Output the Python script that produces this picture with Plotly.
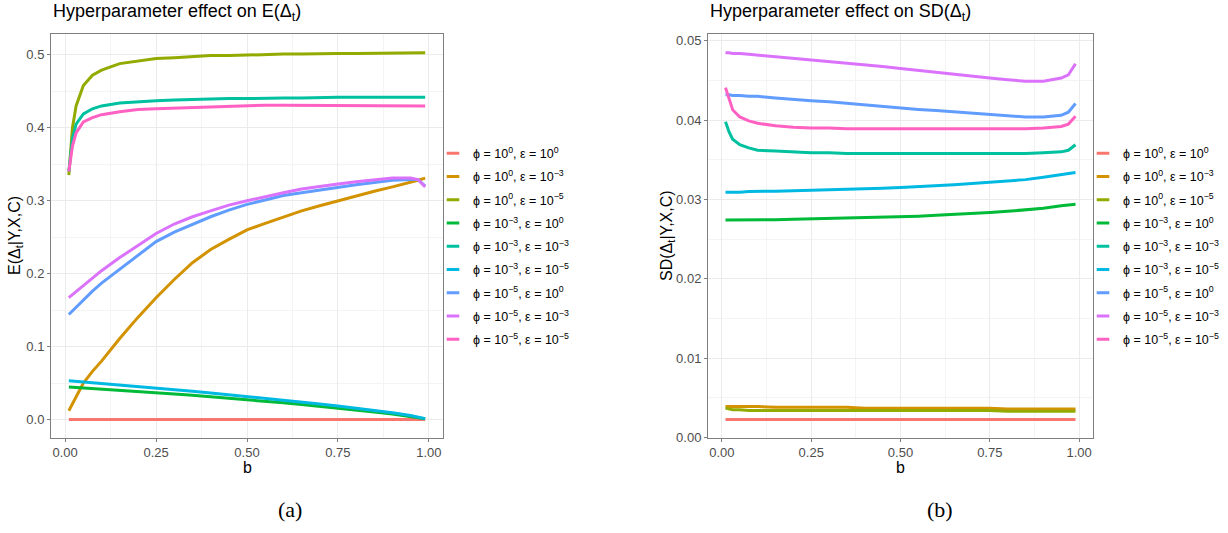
import plotly.graph_objects as go

# ---------------- data ----------------
b = [0.01, 0.02, 0.03, 0.05, 0.075, 0.1, 0.15, 0.2, 0.25, 0.3, 0.35, 0.4, 0.45,
     0.5, 0.55, 0.6, 0.65, 0.7, 0.75, 0.8, 0.85, 0.9, 0.95, 0.97, 0.99]

labels = [
    "ϕ = 10<sup>0</sup>, ε = 10<sup>0</sup>",
    "ϕ = 10<sup>0</sup>, ε = 10<sup>−3</sup>",
    "ϕ = 10<sup>0</sup>, ε = 10<sup>−5</sup>",
    "ϕ = 10<sup>−3</sup>, ε = 10<sup>0</sup>",
    "ϕ = 10<sup>−3</sup>, ε = 10<sup>−3</sup>",
    "ϕ = 10<sup>−3</sup>, ε = 10<sup>−5</sup>",
    "ϕ = 10<sup>−5</sup>, ε = 10<sup>0</sup>",
    "ϕ = 10<sup>−5</sup>, ε = 10<sup>−3</sup>",
    "ϕ = 10<sup>−5</sup>, ε = 10<sup>−5</sup>",
]
colors = ["#F8766D", "#D39200", "#93AA00", "#00BA38", "#00C19F",
          "#00B9E3", "#619CFF", "#DB72FB", "#FF61C3"]

# E(Delta_t | Y,X,C)
E_p0_e0 = [0.0] * 25
E_p0_e3 = [0.012, 0.022, 0.032, 0.05, 0.066, 0.08, 0.111, 0.14, 0.167, 0.192, 0.215, 0.233, 0.247,
           0.260, 0.269, 0.278, 0.286, 0.293, 0.300, 0.307, 0.313, 0.319, 0.325, 0.328, 0.331]
E_p0_e5 = [0.335, 0.40, 0.43, 0.458, 0.472, 0.479, 0.488, 0.492, 0.495, 0.496, 0.498, 0.499, 0.499,
           0.500, 0.500, 0.501, 0.501, 0.502, 0.502, 0.502, 0.502, 0.503, 0.503, 0.503, 0.503]
E_p3_e0 = [0.0446, 0.0443, 0.044, 0.0434, 0.0426, 0.0418, 0.0402, 0.0385, 0.0368, 0.035, 0.0331, 0.0312, 0.0292,
           0.0272, 0.025, 0.0228, 0.0205, 0.0181, 0.0156, 0.013, 0.0103, 0.0074, 0.0042, 0.0026, 0.001]
E_p3_e3 = [0.34, 0.385, 0.405, 0.419, 0.426, 0.43, 0.434, 0.436, 0.437, 0.438, 0.439, 0.439, 0.440,
           0.440, 0.441, 0.441, 0.441, 0.442, 0.442, 0.442, 0.442, 0.443, 0.443, 0.443, 0.442]
E_p3_e5 = [0.053, 0.0526, 0.0522, 0.0514, 0.0504, 0.0494, 0.0474, 0.0453, 0.0432, 0.041, 0.0387, 0.0364, 0.034,
           0.0316, 0.0291, 0.0265, 0.0239, 0.0212, 0.0185, 0.0156, 0.0125, 0.0092, 0.0055, 0.0036, 0.0012]
E_p5_e0 = [0.144, 0.149, 0.154, 0.164, 0.176, 0.187, 0.206, 0.226, 0.244, 0.257, 0.268, 0.278, 0.287,
           0.295, 0.301, 0.307, 0.311, 0.315, 0.319, 0.322, 0.325, 0.328, 0.329, 0.329, 0.320]
E_p5_e3 = [0.167, 0.171, 0.176, 0.184, 0.194, 0.204, 0.222, 0.239, 0.255, 0.268, 0.278, 0.286, 0.294,
           0.300, 0.306, 0.311, 0.316, 0.320, 0.323, 0.326, 0.329, 0.331, 0.331, 0.329, 0.319]
E_p5_e5 = [0.34, 0.375, 0.393, 0.408, 0.414, 0.418, 0.422, 0.425, 0.426, 0.427, 0.428, 0.429, 0.430,
           0.430, 0.431, 0.431, 0.431, 0.431, 0.431, 0.431, 0.431, 0.431, 0.431, 0.431, 0.430]

# SD(Delta_t | Y,X,C)
SD_p0_e0 = [0.00227] * 25
SD_p0_e3 = [0.0039, 0.0039, 0.0039, 0.0039, 0.0039, 0.0039, 0.0038, 0.0038, 0.0038, 0.0038, 0.0038, 0.0037, 0.0037,
            0.0037, 0.0037, 0.0037, 0.0037, 0.0037, 0.0037, 0.0036, 0.0036, 0.0036, 0.0036, 0.0036, 0.0036]
SD_p0_e5 = [0.0037, 0.0036, 0.0035, 0.0035, 0.0034, 0.0034, 0.0034, 0.0034, 0.0034, 0.0034, 0.0034, 0.0034, 0.0034,
            0.0034, 0.0034, 0.0034, 0.0034, 0.0034, 0.0034, 0.0033, 0.0033, 0.0033, 0.0033, 0.0033, 0.0033]
SD_p3_e0 = [0.0274, 0.0274, 0.0274, 0.0274, 0.0274, 0.0274, 0.02745, 0.0275, 0.02755, 0.0276, 0.02765, 0.0277, 0.02775,
            0.0278, 0.0279, 0.0280, 0.0281, 0.0282, 0.02835, 0.0285, 0.0287, 0.0289, 0.0292, 0.0293, 0.0294]
SD_p3_e3 = [0.0398, 0.0385, 0.0376, 0.0369, 0.0365, 0.0362, 0.0361, 0.036, 0.0359, 0.0359, 0.0358, 0.0358, 0.0358,
            0.0358, 0.0358, 0.0358, 0.0358, 0.0358, 0.0358, 0.0358, 0.0358, 0.0359, 0.036, 0.0362, 0.0369]
SD_p3_e5 = [0.0309, 0.0309, 0.0309, 0.0309, 0.031, 0.031, 0.03105, 0.0311, 0.03115, 0.0312, 0.03125, 0.0313, 0.0314,
            0.0315, 0.0316, 0.0317, 0.03185, 0.032, 0.03215, 0.0323, 0.0325, 0.0328, 0.0331, 0.0332, 0.0334]
SD_p5_e0 = [0.0432, 0.0432, 0.0431, 0.0431, 0.043, 0.043, 0.0428, 0.0426, 0.04245, 0.0423, 0.0421, 0.0419, 0.0417,
            0.0415, 0.04135, 0.0412, 0.04105, 0.0409, 0.04075, 0.0406, 0.0404, 0.0404, 0.0406, 0.041, 0.0421]
SD_p5_e3 = [0.0485, 0.0485, 0.0484, 0.0484, 0.0483, 0.0482, 0.048, 0.0478, 0.0476, 0.0474, 0.0472, 0.047, 0.04675,
            0.0465, 0.04625, 0.046, 0.04575, 0.0455, 0.0453, 0.0451, 0.0449, 0.0449, 0.0453, 0.0457, 0.0471]
SD_p5_e5 = [0.0441, 0.0428, 0.0413, 0.0404, 0.0399, 0.0396, 0.0393, 0.0391, 0.039, 0.039, 0.0389, 0.0389, 0.0389,
            0.0389, 0.0389, 0.0389, 0.0389, 0.0389, 0.0389, 0.0389, 0.0389, 0.039, 0.0392, 0.0395, 0.0405]

E_series = [E_p0_e0, E_p0_e3, E_p0_e5, E_p3_e0, E_p3_e3, E_p3_e5, E_p5_e0, E_p5_e3, E_p5_e5]
SD_series = [SD_p0_e0, SD_p0_e3, SD_p0_e5, SD_p3_e0, SD_p3_e3, SD_p3_e5, SD_p5_e0, SD_p5_e3, SD_p5_e5]

x_ticks = [0.0, 0.25, 0.5, 0.75, 1.0]
E_ticks = [0.0, 0.1, 0.2, 0.3, 0.4, 0.5]
SD_ticks = [0.0, 0.01, 0.02, 0.03, 0.04, 0.05]

# ---------------- figure ----------------
W, H = 1228, 533
SANS = "Liberation Sans, Arial, sans-serif"
SERIF = "Liberation Serif, Times New Roman, serif"

fig = go.Figure()

for i in range(9):
    fig.add_trace(go.Scatter(x=b, y=E_series[i], mode="lines",
                             line=dict(color=colors[i], width=3),
                             showlegend=False, xaxis="x", yaxis="y"))
    fig.add_trace(go.Scatter(x=b, y=SD_series[i], mode="lines",
                             line=dict(color=colors[i], width=3),
                             showlegend=False, xaxis="x2", yaxis="y2"))

# legend keys (short ggplot-style segments)
for lg in ["legend", "legend2"]:
    for i in range(9):
        fig.add_trace(go.Scatter(x=[None], y=[None], mode="markers", name=labels[i],
                                 legendgroup=lg + str(i),
                                 marker=dict(symbol="line-ew", size=9,
                                             line=dict(color=colors[i], width=3)),
                                 legend=lg, xaxis="x" if lg == "legend" else "x2",
                                 yaxis="y" if lg == "legend" else "y2"))


def px_x(p):
    return p / W


def px_y(p):
    return 1 - p / H


axis_common = dict(
    showgrid=True, gridcolor="#EBEBEB", gridwidth=1,
    showline=True, linecolor="#7F7F7F", linewidth=1, mirror=True,
    ticks="outside", ticklen=3, tickcolor="#7F7F7F",
    tickfont=dict(family=SANS, size=13, color="#4D4D4D"),
    zeroline=False,
)

legend_common = dict(xanchor="left", yanchor="top",
                     font=dict(family=SANS, size=12.5, color="black"),
                     bgcolor="rgba(0,0,0,0)", tracegroupgap=4)

fig.update_layout(
    width=W, height=H, autosize=False,
    margin=dict(l=0, r=0, t=0, b=0),
    paper_bgcolor="white", plot_bgcolor="white",
    xaxis=dict(domain=[px_x(51), px_x(443)], range=[-0.039, 1.039],
               tickvals=x_ticks, tickformat=".2f",
               minor=dict(showgrid=True, gridcolor="#F4F4F4", dtick=0.125, tick0=0),
               anchor="y", **axis_common),
    yaxis=dict(domain=[px_y(444), px_y(34)], range=[-0.0247, 0.528],
               tickvals=E_ticks, tickformat=".1f",
               minor=dict(showgrid=True, gridcolor="#F4F4F4", dtick=0.05, tick0=0),
               anchor="x", **axis_common),
    xaxis2=dict(domain=[px_x(708), px_x(1093)], range=[-0.039, 1.039],
                tickvals=x_ticks, tickformat=".2f",
                minor=dict(showgrid=True, gridcolor="#F4F4F4", dtick=0.125, tick0=0),
                anchor="y2", **axis_common),
    yaxis2=dict(domain=[px_y(444), px_y(34)], range=[0, 0.0508],
                tickvals=SD_ticks, tickformat=".2f",
                minor=dict(showgrid=True, gridcolor="#F4F4F4", dtick=0.005, tick0=0),
                anchor="x2", **axis_common),
    legend=dict(x=px_x(433), y=px_y(140), **legend_common),
    legend2=dict(x=px_x(1083), y=px_y(140), **legend_common),
    showlegend=True,
)

annotations = [
    dict(text="Hyperparameter effect on E(Δ<sub>t</sub>)", x=px_x(51), y=px_y(25),
         xanchor="left", yanchor="bottom", font=dict(family=SANS, size=18, color="black")),
    dict(text="Hyperparameter effect on SD(Δ<sub>t</sub>)", x=px_x(708), y=px_y(25),
         xanchor="left", yanchor="bottom", font=dict(family=SANS, size=18, color="black")),
    dict(text="b", x=px_x(247), y=px_y(475), xanchor="center", yanchor="middle",
         font=dict(family=SANS, size=16, color="black")),
    dict(text="b", x=px_x(900), y=px_y(475), xanchor="center", yanchor="middle",
         font=dict(family=SANS, size=16, color="black")),
    dict(text="E(Δ<sub>t</sub>|Y,X,C)", x=px_x(16), y=px_y(239), textangle=-90,
         xanchor="center", yanchor="middle", font=dict(family=SANS, size=16, color="black")),
    dict(text="SD(Δ<sub>t</sub>|Y,X,C)", x=px_x(668), y=px_y(239), textangle=-90,
         xanchor="center", yanchor="middle", font=dict(family=SANS, size=16, color="black")),
    dict(text="(a)", x=px_x(290), y=px_y(517), xanchor="center", yanchor="middle",
         font=dict(family=SERIF, size=22, color="black")),
    dict(text="(b)", x=px_x(940), y=px_y(517), xanchor="center", yanchor="middle",
         font=dict(family=SERIF, size=22, color="black")),
]
for a in annotations:
    a.update(xref="paper", yref="paper", showarrow=False)
fig.update_layout(annotations=annotations)

fig.write_html("out.html", config={"displayModeBar": False},
               post_script="document.body.style.margin='0';document.body.style.overflow='hidden';")
